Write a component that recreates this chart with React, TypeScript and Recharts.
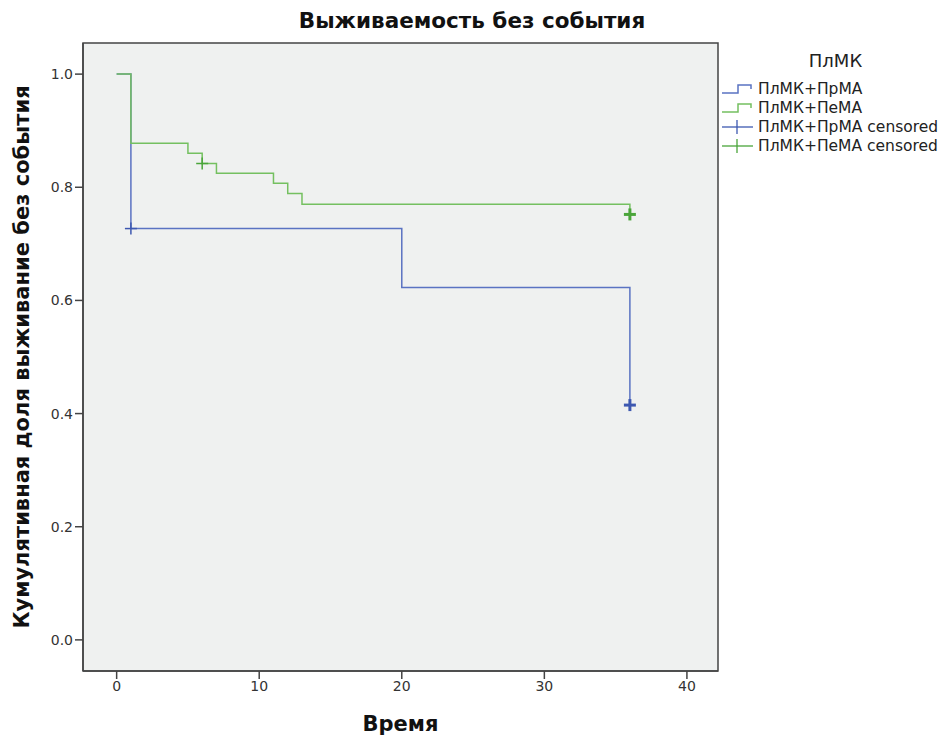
import { ComposedChart, Line, Scatter, XAxis, YAxis, CartesianGrid, ReferenceArea } from 'recharts';

// Kaplan-Meier steps (time, survival)
const prmaTimes = [0, 1, 20, 36];
const prmaSurv = [1.0, 0.727, 0.623, 0.415];
const pemaTimes = [0, 1, 5, 6, 7, 11, 12, 13, 36];
const pemaSurv = [1.0, 0.878, 0.86, 0.842, 0.825, 0.807, 0.789, 0.77, 0.752];

// censored marks (time, survival, weight of the mark)
const prmaCensTimes = [1, 36];
const prmaCensSurv = [0.727, 0.415];
const prmaCensCount = [1, 3];
const pemaCensTimes = [6, 36];
const pemaCensSurv = [0.842, 0.752];
const pemaCensCount = [1, 3];

const xTicks = [0, 10, 20, 30, 40];
const yTicks = [0, 0.2, 0.4, 0.6, 0.8, 1.0];
const X_DOMAIN = [-2.36, 42.18];
const Y_DOMAIN = [-0.055, 1.055];

const BLUE = '#5a73c2';
const GREEN = '#74c060';
const BLUE_MARK = '#3d58b0';
const GREEN_MARK = '#4aa53a';
const FONT = '"DejaVu Sans", sans-serif';

const toRows = (times: number[], surv: number[], counts?: number[]) =>
  times.map((t, i) => ({ t, s: surv[i], n: counts ? counts[i] : 1 }));

const prmaData = toRows(prmaTimes, prmaSurv);
const pemaData = toRows(pemaTimes, pemaSurv);
const prmaCens = toRows(prmaCensTimes, prmaCensSurv, prmaCensCount);
const pemaCens = toRows(pemaCensTimes, pemaCensSurv, pemaCensCount);

const crossShape = (color: string) => (props: any) => {
  const { cx, cy, payload } = props;
  const bold = payload && payload.n > 1;
  const h = 6;
  return (
    <g stroke={color} strokeWidth={bold ? 3 : 1.5}>
      <line x1={cx - h} y1={cy} x2={cx + h} y2={cy} />
      <line x1={cx} y1={cy - h} x2={cx} y2={cy + h} />
    </g>
  );
};

const legendItems = [
  { label: 'ПлМК+ПрМА', color: BLUE, kind: 'step' },
  { label: 'ПлМК+ПеМА', color: GREEN, kind: 'step' },
  { label: 'ПлМК+ПрМА censored', color: BLUE_MARK, kind: 'cross' },
  { label: 'ПлМК+ПеМА censored', color: GREEN_MARK, kind: 'cross' },
];

const KmLegend = () => (
  <div style={{ position: 'absolute', left: 721, top: 50, width: 223, fontFamily: FONT, color: '#222' }}>
    <div style={{ fontSize: 18, textAlign: 'center', marginBottom: 8, paddingLeft: 6 }}>ПлМК</div>
    {legendItems.map((it) => (
      <div key={it.label} style={{ display: 'flex', alignItems: 'center', height: 19, fontSize: 15.5, whiteSpace: 'nowrap' }}>
        <svg width={34} height={16} style={{ marginRight: 3, flex: 'none' }}>
          {it.kind === 'step' ? (
            <path d="M1 12 H17 V4 H30 V8" fill="none" stroke={it.color} strokeWidth={1.5} />
          ) : (
            <g stroke={it.color} strokeWidth={1.3}>
              <line x1={1} y1={8} x2={32} y2={8} />
              <line x1={16} y1={1} x2={16} y2={15} />
            </g>
          )}
        </svg>
        <span>{it.label}</span>
      </div>
    ))}
  </div>
);

export default function App() {
  return (
    <div style={{ position: 'absolute', left: 0, top: 0, width: 944, height: 737, background: '#fff' }}>
      <div
        style={{
          position: 'absolute', left: 0, top: 8, width: 944, textAlign: 'center',
          fontFamily: FONT, fontWeight: 'bold', fontSize: 21.5, color: '#111',
        }}
      >
        Выживаемость без события
      </div>
      <ComposedChart width={944} height={737} margin={{ top: 43, right: 226, bottom: 4, left: 0 }}>
        <CartesianGrid horizontal={false} vertical={false} fill="#eff1f0" />
        <ReferenceArea
          x1={X_DOMAIN[0]} x2={X_DOMAIN[1]} y1={Y_DOMAIN[0]} y2={Y_DOMAIN[1]}
          fill="none" fillOpacity={0} stroke="#444" strokeWidth={1.5} ifOverflow="visible"
        />
        <XAxis
          dataKey="t"
          type="number"
          domain={X_DOMAIN}
          allowDataOverflow
          ticks={xTicks}
          tickSize={8}
          tick={{ fill: '#333', fontSize: 14, fontFamily: FONT }}
          axisLine={{ stroke: '#444', strokeWidth: 1.5 }}
          tickLine={{ stroke: '#444', strokeWidth: 1.5 }}
          height={62}
          label={{ value: 'Время', position: 'insideBottom', offset: 2, fill: '#111', fontSize: 21, fontWeight: 'bold', fontFamily: FONT }}
        />
        <YAxis
          type="number"
          domain={Y_DOMAIN}
          allowDataOverflow
          ticks={yTicks}
          tickFormatter={(v: number) => v.toFixed(1)}
          tickSize={8}
          tick={{ fill: '#333', fontSize: 14, fontFamily: FONT }}
          axisLine={{ stroke: '#444', strokeWidth: 1.5 }}
          tickLine={{ stroke: '#444', strokeWidth: 1.5 }}
          width={83}
          label={{
            value: 'Кумулятивная доля выживание без события', angle: -90, position: 'insideLeft', offset: 22,
            style: { textAnchor: 'middle' }, fill: '#111', fontSize: 21, fontWeight: 'bold', fontFamily: FONT,
          }}
        />
        <Line data={prmaData} dataKey="s" type="stepAfter" stroke={BLUE} strokeWidth={1.5} dot={false} isAnimationActive={false} />
        <Line data={pemaData} dataKey="s" type="stepAfter" stroke={GREEN} strokeWidth={1.5} dot={false} isAnimationActive={false} />
        <Scatter data={prmaCens} dataKey="s" shape={crossShape(BLUE_MARK)} isAnimationActive={false} />
        <Scatter data={pemaCens} dataKey="s" shape={crossShape(GREEN_MARK)} isAnimationActive={false} />
      </ComposedChart>
      <KmLegend />
    </div>
  );
}
